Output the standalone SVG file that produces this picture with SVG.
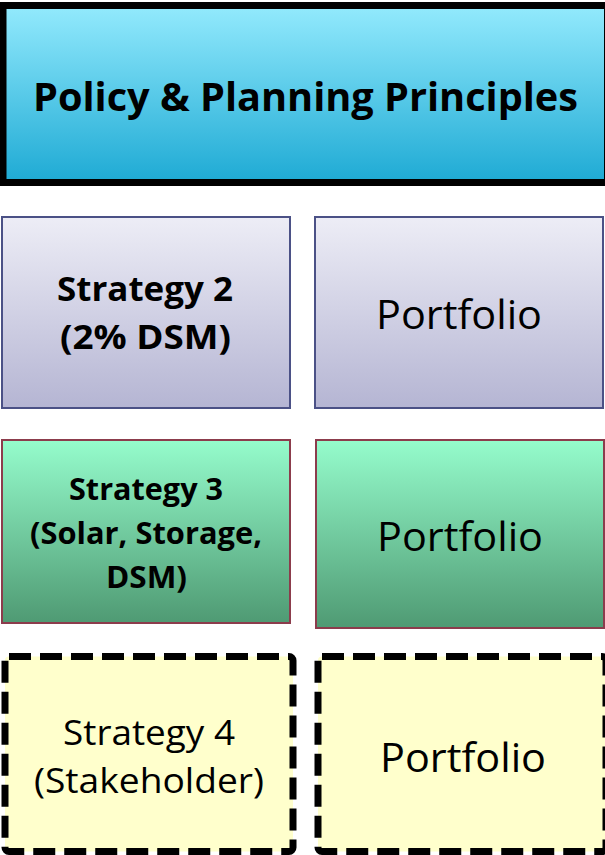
<svg xmlns="http://www.w3.org/2000/svg" width="605" height="855" viewBox="0 0 605 855">
<defs>
<linearGradient id="gTop" x1="0" y1="0" x2="0" y2="1"><stop offset="0" stop-color="#93eafd"/><stop offset="1" stop-color="#1eaad4"/></linearGradient>
<linearGradient id="gBlue" x1="0" y1="0" x2="0" y2="1"><stop offset="0" stop-color="#ededf6"/><stop offset="1" stop-color="#b5b5d3"/></linearGradient>
<linearGradient id="gGreen" x1="0" y1="0" x2="0" y2="1"><stop offset="0" stop-color="#95fccc"/><stop offset="1" stop-color="#4f9a73"/></linearGradient>
<style>
.t{font-family:"Open Sans","Noto Sans","Liberation Sans",sans-serif;fill:#000;text-anchor:middle}
.b{font-weight:bold}
.blue{fill:url(#gBlue);stroke:#4b5186;stroke-width:2}
.green{fill:url(#gGreen);stroke:#8c3c4c;stroke-width:2}
.yel{fill:#ffffcc;stroke:#000;stroke-width:7;stroke-dasharray:22 9}
</style>
</defs>
<g id="policy">
<rect x="3" y="5.5" width="604.5" height="177" fill="url(#gTop)" stroke="#000" stroke-width="7"/>
<text class="t b" x="305.5" y="111" font-size="40" textLength="545" lengthAdjust="spacingAndGlyphs">Policy &amp; Planning Principles</text>
</g>
<g id="strategy2">
<rect class="blue" x="2" y="217" width="288" height="191"/>
<text class="t b" x="145" y="301" font-size="34" textLength="176" lengthAdjust="spacingAndGlyphs">Strategy 2</text>
<text class="t b" x="145.5" y="349" font-size="34" textLength="171" lengthAdjust="spacingAndGlyphs">(2% DSM)</text>
</g>
<g id="portfolio2">
<rect class="blue" x="315" y="217" width="288" height="191"/>
<text class="t" x="459" y="329" font-size="40" textLength="166" lengthAdjust="spacingAndGlyphs">Portfolio</text>
</g>
<g id="strategy3">
<rect class="green" x="2" y="440" width="288" height="183"/>
<text class="t b" x="146" y="500" font-size="30" textLength="154" lengthAdjust="spacingAndGlyphs">Strategy 3</text>
<text class="t b" x="146" y="544" font-size="30" textLength="232" lengthAdjust="spacingAndGlyphs">(Solar, Storage,</text>
<text class="t b" x="146.5" y="588" font-size="30" textLength="81" lengthAdjust="spacingAndGlyphs">DSM)</text>
</g>
<g id="portfolio3">
<rect class="green" x="316" y="440" width="288" height="188"/>
<text class="t" x="460" y="551" font-size="40" textLength="166" lengthAdjust="spacingAndGlyphs">Portfolio</text>
</g>
<g id="strategy4">
<rect class="yel" x="5" y="656.5" width="288" height="195" rx="4"/>
<text class="t" x="149" y="745" font-size="34" textLength="172" lengthAdjust="spacingAndGlyphs">Strategy 4</text>
<text class="t" x="149" y="793" font-size="34" textLength="230" lengthAdjust="spacingAndGlyphs">(Stakeholder)</text>
</g>
<g id="portfolio4">
<rect class="yel" x="318" y="656.5" width="288" height="195" rx="4"/>
<text class="t" x="463" y="772" font-size="40" textLength="166" lengthAdjust="spacingAndGlyphs">Portfolio</text>
</g>
<g id="connectors"/>
</svg>
